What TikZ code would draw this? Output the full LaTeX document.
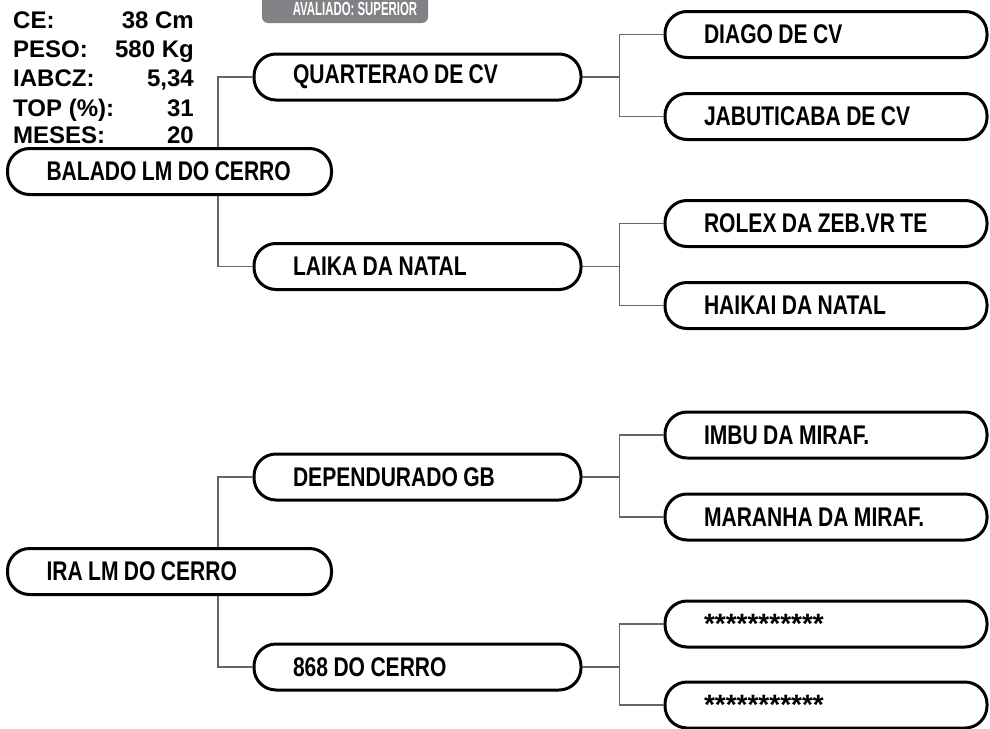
\documentclass[tikz,border=0pt]{standalone}
\usepackage{fontspec}
\setmainfont{Liberation Sans}
\newfontfamily\condfont[FakeStretch=0.78]{Liberation Sans}
\newfontfamily\tabfont[FakeStretch=0.6]{Liberation Sans}
\usetikzlibrary{positioning,calc}
\definecolor{tabgray}{HTML}{808285}

\begin{document}
\begin{tikzpicture}[x=1pt, y=-1pt,
        nameBox/.style={
                draw, line width=3pt, rounded corners=22pt,
                minimum height=46pt, inner xsep=20pt, inner ysep=0pt,
                align=left, execute at begin node={\spaceskip=0.2em\relax\hspace*{19pt}},
                font=\condfont\bfseries\fontsize{27}{30}\selectfont
            },
        sireBox/.style={nameBox, text width=284pt},
        parentBox/.style={nameBox, text width=287pt},
        grandBox/.style={nameBox, text width=282pt},
        starText/.style={font=\bfseries\fontsize{28}{30}\selectfont},
        link/.style={draw=black!60, line width=1.2pt},
        infoText/.style={font=\bfseries\fontsize{24}{26}\selectfont, inner sep=0pt},
        tabText/.style={font=\tabfont\bfseries\fontsize{19}{20}\selectfont, text=white, inner sep=0pt}
    ]
    \clip (0,0) rectangle (990,728);

    % evaluation tab
    \fill[tabgray, rounded corners=6pt] (262,-10) rectangle (428,23);
    \node[tabText, anchor=base] (tabLabel) at (355,16) {AVALIADO: SUPERIOR};

    % data of the first animal
    \node[infoText, anchor=base west] (ceLabel) at (13,28) {CE:};
    \node[infoText, anchor=base east] (ceValue) at (194,28) {38 Cm};
    \node[infoText, anchor=base west] (pesoLabel) at (13,57) {PESO:};
    \node[infoText, anchor=base east] (pesoValue) at (194,57) {580 Kg};
    \node[infoText, anchor=base west] (iabczLabel) at (13,86) {IABCZ:};
    \node[infoText, anchor=base east] (iabczValue) at (194,86) {5,34};
    \node[infoText, anchor=base west] (topLabel) at (13,116) {TOP (\%):};
    \node[infoText, anchor=base east] (topValue) at (194,116) {31};
    \node[infoText, anchor=base west] (mesesLabel) at (13,143) {MESES:};
    \node[infoText, anchor=base east] (mesesValue) at (194,143) {20};

    % upper pedigree
    \node[sireBox] (balado) at (169.5,171.5) {BALADO LM DO CERRO};
    \node[parentBox] (quarterao) at (417.5,77) {QUARTERAO DE CV};
    \node[parentBox] (laika) at (417.5,266.5) {LAIKA DA NATAL};
    \node[grandBox] (diago) at (826,34.5) {DIAGO DE CV};
    \node[grandBox] (jabuticaba) at (826,116.5) {JABUTICABA DE CV};
    \node[grandBox] (rolex) at (826,223.5) {ROLEX DA ZEB.VR TE};
    \node[grandBox] (haikai) at (826,305.5) {HAIKAI DA NATAL};

    % lower pedigree
    \node[sireBox] (ira) at (169.5,571.5) {IRA LM DO CERRO};
    \node[parentBox] (dependurado) at (417.5,477) {DEPENDURADO GB};
    \node[parentBox] (cerro868) at (417.5,667) {868 DO CERRO};
    \node[grandBox] (imbu) at (826,435) {IMBU DA MIRAF.};
    \node[grandBox] (maranha) at (826,517) {MARANHA DA MIRAF.};
    \node[grandBox, starText] (unknownA) at (826,624) {***********};
    \node[grandBox, starText] (unknownB) at (826,705) {***********};

    \draw[link] (quarterao.west) -| ($(balado.north)+(48.5,0)$);
    \draw[link] (laika.west) -| ($(balado.south)+(48.5,0)$);
    \draw[link] (quarterao.east) -- ++(37,0) |- (diago.west);
    \draw[link] (quarterao.east) -- ++(37,0) |- (jabuticaba.west);
    \draw[link] (laika.east) -- ++(37,0) |- (rolex.west);
    \draw[link] (laika.east) -- ++(37,0) |- (haikai.west);

    \draw[link] (dependurado.west) -| ($(ira.north)+(48.5,0)$);
    \draw[link] (cerro868.west) -| ($(ira.south)+(48.5,0)$);
    \draw[link] (dependurado.east) -- ++(37,0) |- (imbu.west);
    \draw[link] (dependurado.east) -- ++(37,0) |- (maranha.west);
    \draw[link] (cerro868.east) -- ++(37,0) |- (unknownA.west);
    \draw[link] (cerro868.east) -- ++(37,0) |- (unknownB.west);
\end{tikzpicture}
\end{document}
